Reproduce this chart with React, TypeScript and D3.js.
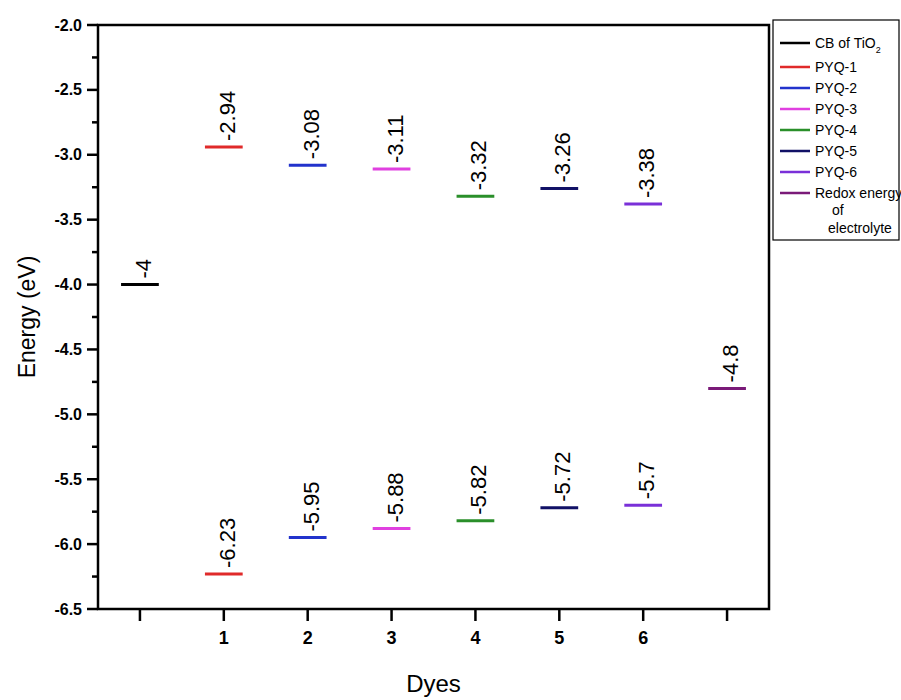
import React from 'react';
import * as d3 from 'd3';

// values
const dyeNames = ['PYQ-1', 'PYQ-2', 'PYQ-3', 'PYQ-4', 'PYQ-5', 'PYQ-6'];
const dyeLumo = [-2.94, -3.08, -3.11, -3.32, -3.26, -3.38];
const dyeHomo = [-6.23, -5.95, -5.88, -5.82, -5.72, -5.7];
const dyeColors = ['#e02a2a', '#2233cc', '#e040e0', '#2a8f2a', '#111166', '#7a30d8'];
const cbValue = -4;
const redoxValue = -4.8;
const xTickValues = [0, 1, 2, 3, 4, 5, 6, 7];
const xTickLabels = ['', '1', '2', '3', '4', '5', '6', ''];

const W = 901;
const H = 700;
const margin = { left: 98, right: 769, top: 25, bottom: 609 };
const font = 'Arial, "Liberation Sans", sans-serif';

export default function App() {
  const x = d3.scaleLinear().domain([-0.5, 7.5]).range([margin.left, margin.right]);
  const y = d3.scaleLinear().domain([-6.5, -2.0]).range([margin.bottom, margin.top]);
  const halfW = 0.225;

  // all level segments
  const levels: { pos: number; val: number; color: string }[] = [
    { pos: 0, val: cbValue, color: '#000' },
    ...dyeLumo.map((v, i) => ({ pos: i + 1, val: v, color: dyeColors[i] })),
    ...dyeHomo.map((v, i) => ({ pos: i + 1, val: v, color: dyeColors[i] })),
    { pos: 7, val: redoxValue, color: '#7a1a78' },
  ];

  const majorTicks = d3.range(-6.5, -1.99, 0.5);
  const minorTicks = d3.range(-6.25, -2.0, 0.5);

  const legendItems = [
    { label: 'CB of TiO', sub: '2', color: '#000' },
    ...dyeNames.map((n, i) => ({ label: n, sub: '', color: dyeColors[i] })),
    { label: 'Redox energy', sub: '', color: '#7a1a78' },
  ];
  const legendY = (i: number) => (i === 0 ? 43 : 67 + (i - 1) * 21);

  return (
    <svg
      width={W}
      height={H}
      style={{ position: 'absolute', left: 0, top: 0, background: '#fff' }}
      fontFamily={font}
    >
      {/* frame */}
      <rect
        x={margin.left}
        y={margin.top}
        width={margin.right - margin.left}
        height={margin.bottom - margin.top}
        fill="none"
        stroke="#000"
        strokeWidth={2.5}
      />

      {/* y axis ticks */}
      {majorTicks.map((t) => (
        <g key={'y' + t}>
          <line x1={margin.left - 11} x2={margin.left} y1={y(t)} y2={y(t)} stroke="#000" strokeWidth={2.5} />
          <text
            x={margin.left - 16}
            y={y(t)}
            dy="0.35em"
            textAnchor="end"
            fontSize={16}
            fontWeight="bold"
          >
            {t.toFixed(1)}
          </text>
        </g>
      ))}
      {minorTicks.map((t) => (
        <line key={'m' + t} x1={margin.left - 6} x2={margin.left} y1={y(t)} y2={y(t)} stroke="#000" strokeWidth={2.5} />
      ))}

      {/* x axis ticks */}
      {xTickValues.map((t, i) => (
        <g key={'x' + t}>
          <line x1={x(t)} x2={x(t)} y1={margin.bottom} y2={margin.bottom + 12} stroke="#000" strokeWidth={2.5} />
          <text x={x(t)} y={644} textAnchor="middle" fontSize={18} fontWeight="bold">
            {xTickLabels[i]}
          </text>
        </g>
      ))}

      {/* axis titles */}
      <text transform={`translate(35, ${(margin.top + margin.bottom) / 2}) rotate(-90)`} textAnchor="middle" fontSize={23}>
        Energy (eV)
      </text>
      <text x={(margin.left + margin.right) / 2} y={692} textAnchor="middle" fontSize={24}>
        Dyes
      </text>

      {/* energy levels */}
      {levels.map((d, i) => (
        <g key={'l' + i}>
          <line
            x1={x(d.pos - halfW)}
            x2={x(d.pos + halfW)}
            y1={y(d.val)}
            y2={y(d.val)}
            stroke={d.color}
            strokeWidth={3}
          />
          <text
            transform={`translate(${x(d.pos) + 11}, ${y(d.val) - 6}) rotate(-90)`}
            fontSize={22}
            fill="#000"
          >
            {String(d.val)}
          </text>
        </g>
      ))}

      {/* legend */}
      <rect x={773} y={20} width={126} height={220} fill="#fff" stroke="#000" strokeWidth={1.2} />
      {legendItems.map((d, i) => (
        <g key={'lg' + i}>
          <line x1={780} x2={810} y1={legendY(i)} y2={legendY(i)} stroke={d.color} strokeWidth={2.5} />
          <text x={815} y={legendY(i)} dy="0.35em" fontSize={14}>
            {d.label}
            {d.sub && (
              <tspan fontSize={9} dy="5">
                {d.sub}
              </tspan>
            )}
          </text>
        </g>
      ))}
      <text x={832} y={210} dy="0.35em" fontSize={14}>
        of
      </text>
      <text x={828} y={228} dy="0.35em" fontSize={14}>
        electrolyte
      </text>
    </svg>
  );
}
